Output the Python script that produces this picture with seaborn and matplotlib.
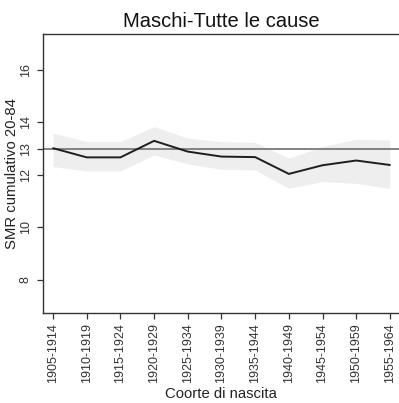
import numpy as np
import pandas as pd
import matplotlib
matplotlib.use("Agg")
import matplotlib.pyplot as plt
import seaborn as sns

cohorts = ["1905-1914", "1910-1919", "1915-1924", "1920-1929", "1925-1934",
           "1930-1939", "1935-1944", "1940-1949", "1945-1954", "1950-1959",
           "1955-1964"]
smr = [13.02, 12.67, 12.67, 13.30, 12.89, 12.70, 12.68, 12.04, 12.37, 12.55, 12.38]
upper = [13.59, 13.27, 13.27, 13.84, 13.40, 13.27, 13.24, 12.64, 13.08, 13.36, 13.33]
lower = [12.32, 12.15, 12.15, 12.76, 12.42, 12.22, 12.19, 11.49, 11.75, 11.68, 11.49]
reference = 13
yticks = [8, 10, 12, 13, 14, 16]

sns.set_style("white")
plt.rcParams['font.family'] = ['Liberation Sans', 'DejaVu Sans']

pos = np.arange(len(cohorts))
df = pd.DataFrame({"pos": pos, "smr": smr})

fig = plt.figure(figsize=(3.99, 4.03), dpi=100)
ax = fig.add_axes([0.1085, 0.2233, 0.8915, 0.6923])

ax.fill_between(pos, lower, upper, color="#eeeeee", lw=0, zorder=1)
ax.axhline(reference, color="#7a7a7a", lw=1.3, zorder=2)
sns.lineplot(data=df, x="pos", y="smr", color="#1e1e1e", lw=1.4, ax=ax, zorder=3)

ax.set_xlim(-0.29, 10.27)
ax.set_ylim(6.74, 17.37)
ax.set_xticks(pos)
ax.set_xticklabels(cohorts, rotation=90, fontsize=9, color="#333333")
ax.set_yticks(yticks)
ax.set_yticklabels([str(t) for t in yticks], rotation=90, va="center",
                   fontsize=9, color="#333333")
ax.tick_params(axis="both", direction="out", length=4.3, width=0.9,
               color="#333333", pad=3, left=True, bottom=True)
ax.tick_params(axis="y", pad=4)

for s in ["left", "bottom", "top"]:
    ax.spines[s].set_visible(True)
    ax.spines[s].set_color("#333333")
    ax.spines[s].set_linewidth(1.0)
ax.spines["right"].set_visible(False)

ax.set_xlabel("Coorte di nascita", fontsize=10.7, color="#222222", va="baseline")
ax.xaxis.set_label_coords(0.5, -0.303)
ax.set_ylabel("SMR cumulativo 20-84", fontsize=10.7, color="#222222", va="center")
ax.yaxis.set_label_coords(-0.088, 0.5)
ax.set_title("Maschi-Tutte le cause", fontsize=14.5, color="#111111", pad=5)

fig.savefig("out.png", dpi=100)
